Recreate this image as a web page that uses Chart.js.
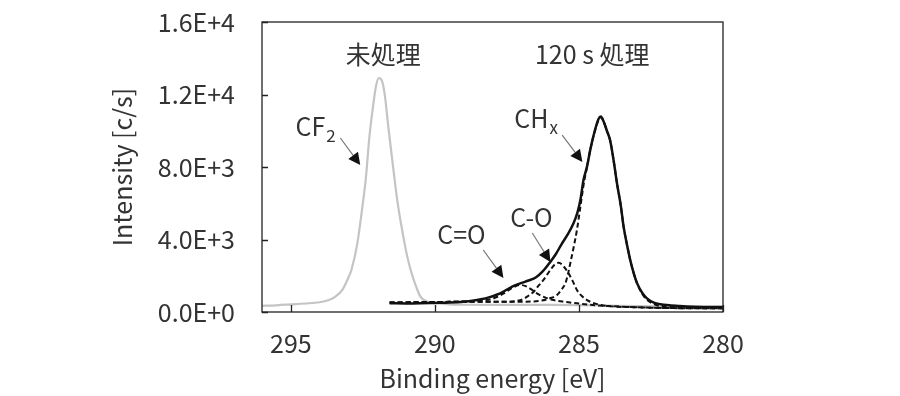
<!DOCTYPE html>
<html>
<head>
<meta charset="utf-8">
<script src="https://cdn.jsdelivr.net/npm/chart.js@4.4.1/dist/chart.umd.min.js"></script>
<style>
html, body { margin: 0; padding: 0; background: #fff; }
#wrap { width: 900px; height: 396px; }
</style>
</head>
<body>
<div id="wrap"><canvas id="xps"></canvas></div>
<script>
// C1s spectra: binding energy (eV) and intensity (c/s)

// untreated sample (grey)
const untreatedEV = [296.0, 295.5, 295.0, 294.5, 294.0, 293.7, 293.45, 293.2, 293.0, 292.9, 292.7, 292.5, 292.4, 292.27, 292.15, 292.05, 291.95, 291.85, 291.75, 291.6, 291.45, 291.3, 291.1, 290.95, 290.8, 290.65, 290.5, 290.3, 290.0, 289.5, 289.0, 288.0, 287.0, 286.0, 285.0, 284.0, 283.0, 282.0, 281.0, 280.0];
const untreatedI = [340, 370, 420, 470, 540, 650, 850, 1250, 1900, 2300, 3700, 6000, 7300, 9700, 11300, 12400, 12900, 12800, 12100, 10000, 8000, 6100, 4200, 3000, 2100, 1400, 850, 600, 500, 420, 400, 390, 390, 390, 380, 350, 320, 300, 290, 280];

// 120 s treated sample (black, measured)
const treatedEV = [291.57, 291.0, 290.5, 290.0, 289.5, 289.0, 288.7, 288.4, 288.1, 287.88, 287.65, 287.42, 287.2, 286.96, 286.75, 286.5, 286.25, 286.0, 285.8, 285.6, 285.4, 285.2, 285.05, 284.95, 284.84, 284.72, 284.6, 284.45, 284.32, 284.24, 284.14, 284.03, 283.92, 283.8, 283.68, 283.55, 283.45, 283.33, 283.22, 283.1, 282.98, 282.8, 282.64, 282.4, 282.17, 281.5, 281.0, 280.5, 280.0];
const treatedI = [480, 470, 480, 500, 520, 570, 620, 700, 820, 940, 1100, 1310, 1480, 1620, 1740, 1900, 2250, 2750, 3200, 3750, 4250, 4850, 5500, 6180, 7300, 8020, 9000, 10000, 10650, 10780, 10500, 10000, 9490, 8400, 7100, 5900, 4710, 3700, 2870, 2150, 1580, 1050, 750, 520, 430, 330, 290, 280, 270];

// fitted components (dashed)
const coDoubleEV = [291.57, 290.5, 289.5, 288.8, 288.4, 288.07, 287.8, 287.61, 287.4, 287.2, 287.04, 286.85, 286.65, 286.46, 286.2, 285.88, 285.5, 285.07, 284.6, 284.0, 283.0, 282.0, 281.0, 280.0];
const coDoubleI = [520, 540, 560, 590, 640, 700, 860, 1030, 1250, 1420, 1490, 1430, 1250, 1030, 820, 660, 560, 480, 400, 330, 260, 220, 210, 200];

const coSingleEV = [291.57, 290.0, 288.5, 287.38, 287.15, 286.92, 286.75, 286.57, 286.4, 286.23, 286.0, 285.85, 285.7, 285.55, 285.36, 285.2, 285.07, 284.9, 284.72, 284.4, 284.0, 283.0, 282.0, 281.0, 280.0];
const coSingleI = [520, 550, 570, 570, 610, 720, 900, 1120, 1450, 1770, 2300, 2600, 2720, 2550, 2130, 1650, 1210, 880, 660, 450, 330, 260, 220, 210, 200];

const chxEV = [291.57, 290.0, 288.5, 287.0, 286.34, 286.0, 285.76, 285.6, 285.47, 285.38, 285.3, 285.18, 285.07, 284.95, 284.84, 284.72, 284.6, 284.45, 284.32, 284.24, 284.14, 284.03, 283.92, 283.8, 283.68, 283.55, 283.45, 283.33, 283.22, 283.1, 282.98, 282.8, 282.64, 282.4, 282.17, 281.5, 281.0, 280.0];
const chxI = [520, 550, 570, 570, 620, 760, 940, 1250, 1580, 2100, 2690, 3600, 4520, 5800, 7000, 8000, 9000, 9950, 10600, 10750, 10500, 10000, 9490, 8400, 7100, 5900, 4710, 3700, 2870, 2150, 1580, 1000, 680, 440, 330, 250, 220, 200];

// axis ticks
const xTickValues = [295, 290, 285, 280];
const yTickValues = [0, 4000, 8000, 12000, 16000];
const yTickLabels = ['0.0E+0', '4.0E+3', '8.0E+3', '1.2E+4', '1.6E+4'];

// annotation texts (anchored in data units) and arrows
const noteTexts = ['未処理', '120 s 処理', 'CF', 'CH', 'C-O', 'C=O'];
const noteSubs = ['', '', '2', 'x', '', ''];
const noteEV = [291.79, 284.54, 294.32, 286.65, 286.65, 289.08];
const noteI = [14180, 14180, 10210, 10700, 5240, 4300];
const arrowFromEV = [293.28, 285.58, 286.62, 288.32];
const arrowFromI = [9600, 9760, 4360, 3420];
const arrowToEV = [292.59, 284.88, 285.99, 287.62];
const arrowToI = [8110, 8280, 2760, 1880];

const FONT = '"Noto Sans CJK JP", "DejaVu Sans", sans-serif';
const TEXT_COLOR = '#333';

const toPoints = (xs, ys) => xs.map((x, i) => ({x: x, y: ys[i]}));

// frame round the plot area plus inward tick marks
const framePlugin = {
    id: 'frame',
    afterDraw(chart) {
        const {ctx, chartArea: a, scales} = chart;
        ctx.save();
        ctx.strokeStyle = '#222';
        ctx.lineWidth = 1.3;
        ctx.strokeRect(a.left, a.top, a.right - a.left, a.bottom - a.top);
        ctx.beginPath();
        scales.x.ticks.forEach(t => {
            const px = Math.round(scales.x.getPixelForValue(t.value)) + 0.5;
            ctx.moveTo(px, a.bottom);
            ctx.lineTo(px, a.bottom - 7);
        });
        scales.y.ticks.forEach(t => {
            const py = Math.round(scales.y.getPixelForValue(t.value)) + 0.5;
            ctx.moveTo(a.left, py);
            ctx.lineTo(a.left + 6, py);
        });
        ctx.stroke();
        ctx.restore();
    }
};

// labels and arrows drawn on the plot
const notesPlugin = {
    id: 'notes',
    afterDatasetsDraw(chart) {
        const {ctx, scales} = chart;
        ctx.save();
        ctx.fillStyle = TEXT_COLOR;
        ctx.textBaseline = 'middle';
        noteTexts.forEach((txt, i) => {
            const px = scales.x.getPixelForValue(noteEV[i]);
            const py = scales.y.getPixelForValue(noteI[i]);
            ctx.font = '25px ' + FONT;
            ctx.textAlign = 'center';
            ctx.fillText(txt, px, py);
            if (noteSubs[i]) {
                const w = ctx.measureText(txt).width;
                ctx.font = '17px ' + FONT;
                ctx.textAlign = 'left';
                ctx.fillText(noteSubs[i], px + w / 2 + 1, py + 9);
            }
        });
        arrowFromEV.forEach((ev, i) => {
            const x1 = scales.x.getPixelForValue(ev);
            const y1 = scales.y.getPixelForValue(arrowFromI[i]);
            const x2 = scales.x.getPixelForValue(arrowToEV[i]);
            const y2 = scales.y.getPixelForValue(arrowToI[i]);
            const ang = Math.atan2(y2 - y1, x2 - x1);
            const head = 12, half = 6;
            const bx = x2 - head * Math.cos(ang), by = y2 - head * Math.sin(ang);
            ctx.strokeStyle = '#777';
            ctx.lineWidth = 1.2;
            ctx.beginPath();
            ctx.moveTo(x1, y1);
            ctx.lineTo(bx, by);
            ctx.stroke();
            ctx.fillStyle = '#111';
            ctx.beginPath();
            ctx.moveTo(x2, y2);
            ctx.lineTo(bx + half * Math.sin(ang), by - half * Math.cos(ang));
            ctx.lineTo(bx - half * Math.sin(ang), by + half * Math.cos(ang));
            ctx.closePath();
            ctx.fill();
        });
        ctx.restore();
    }
};

const lineSet = (data, color, width, dash, order) => ({
    data: data,
    borderColor: color,
    borderWidth: width,
    borderDash: dash,
    pointRadius: 0,
    fill: false,
    cubicInterpolationMode: 'monotone',
    order: order,
});

new Chart(document.getElementById('xps'), {
    type: 'line',
    data: {
        datasets: [
            lineSet(toPoints(treatedEV, treatedI), '#111', 2.5, [], 0),
            lineSet(toPoints(chxEV, chxI), '#111', 2, [5, 3], 1),
            lineSet(toPoints(coSingleEV, coSingleI), '#111', 2, [5, 3], 1),
            lineSet(toPoints(coDoubleEV, coDoubleI), '#111', 2, [5, 3], 1),
            lineSet(toPoints(untreatedEV, untreatedI), '#c4c4c4', 2.2, [], 2),
        ],
    },
    options: {
        responsive: true,
        maintainAspectRatio: false,
        animation: false,
        layout: { padding: { top: 22, right: 177, left: 0, bottom: 0 } },
        scales: {
            x: {
                type: 'linear',
                min: 280,
                max: 296,
                reverse: true,
                afterBuildTicks: scale => { scale.ticks = xTickValues.map(v => ({value: v})); },
                afterFit: scale => { scale.height = 84; scale.paddingLeft = 0; scale.paddingRight = 0; },
                grid: { display: false, drawTicks: false },
                border: { display: false },
                ticks: {
                    padding: 16,
                    color: TEXT_COLOR,
                    font: { family: FONT, size: 25 },
                    callback: v => String(v),
                },
                title: {
                    display: true,
                    text: 'Binding energy [eV]',
                    color: TEXT_COLOR,
                    font: { family: FONT, size: 25 },
                    padding: { top: 0, bottom: 3 },
                },
            },
            y: {
                min: 0,
                max: 16000,
                afterBuildTicks: scale => { scale.ticks = yTickValues.map(v => ({value: v})); },
                afterFit: scale => { scale.width = 262; scale.paddingTop = 0; scale.paddingBottom = 0; },
                grid: { display: false, drawTicks: false },
                border: { display: false },
                ticks: {
                    padding: 27,
                    color: TEXT_COLOR,
                    font: { family: FONT, size: 25 },
                    callback: v => yTickLabels[yTickValues.indexOf(v)],
                },
                title: {
                    display: true,
                    text: 'Intensity [c/s]',
                    color: TEXT_COLOR,
                    font: { family: FONT, size: 25 },
                    padding: { top: 107, bottom: 0 },
                },
            },
        },
        plugins: {
            legend: { display: false },
            tooltip: { enabled: false },
        },
    },
    plugins: [framePlugin, notesPlugin],
});
</script>
</body>
</html>
